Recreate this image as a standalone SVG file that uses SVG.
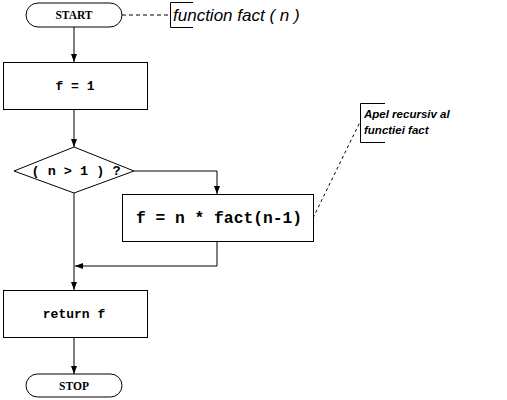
<svg xmlns="http://www.w3.org/2000/svg" width="507" height="400" viewBox="0 0 507 400">
<style>
.box{fill:#fff;stroke:#000;stroke-width:1}
.ln{fill:none;stroke:#000;stroke-width:1}
.term{font-family:"Liberation Serif",serif;font-weight:bold;font-size:11.5px;text-anchor:middle}
.code{font-family:"Liberation Mono",monospace;font-weight:bold;text-anchor:middle}
.note{font-family:"Liberation Sans",Arial,sans-serif;font-style:italic}
</style>
<defs>
<marker id="ah" markerWidth="8" markerHeight="6" refX="8" refY="3" orient="auto" markerUnits="userSpaceOnUse">
<path d="M0,0 L8,3 L0,6 Z" fill="#000"/>
</marker>
</defs>
<rect width="507" height="400" fill="#fff"/>
<g id="connectors">
<line class="ln" x1="74" y1="27" x2="74" y2="62" marker-end="url(#ah)"/>
<line class="ln" x1="74" y1="110" x2="74" y2="147" marker-end="url(#ah)"/>
<polyline class="ln" points="134,171 217,171 217,194" marker-end="url(#ah)"/>
<polyline class="ln" points="217,242 217,266 75,266" marker-end="url(#ah)"/>
<line class="ln" x1="74" y1="193" x2="74" y2="290" marker-end="url(#ah)"/>
<line class="ln" x1="74" y1="338" x2="74" y2="374" marker-end="url(#ah)"/>
<line class="ln" x1="122" y1="15" x2="170" y2="15" stroke-dasharray="4,3"/>
<line class="ln" x1="313" y1="218" x2="360" y2="122" stroke-dasharray="3,3"/>
</g>
<g id="start">
<rect class="box" x="26" y="3" width="96" height="24" rx="12" ry="12"/>
<text class="term" x="74" y="19">START</text>
</g>
<g id="note-function">
<polyline class="ln" points="193,2.5 170.5,2.5 170.5,27.5 193,27.5"/>
<text class="note" x="173" y="21" font-size="17">function fact ( n )</text>
</g>
<g id="init">
<rect class="box" x="3.5" y="62.5" width="144" height="47"/>
<text class="code" x="75" y="90" font-size="13">f = 1</text>
</g>
<g id="decision">
<polygon class="box" points="14,171 74,147 134,171 74,193"/>
<text class="code" x="76" y="175" font-size="13.5">( n &gt; 1 ) ?</text>
</g>
<g id="recursive">
<rect class="box" x="122.5" y="194.5" width="191" height="47"/>
<text class="code" x="219" y="223" font-size="16.3">f = n * fact(n-1)</text>
</g>
<g id="note-recursive">
<polyline class="ln" points="385,103.5 360.5,103.5 360.5,142.5 385,142.5"/>
<text class="note" x="364" y="118" font-size="11.5" font-weight="bold">Apel recursiv al</text>
<text class="note" x="364" y="134" font-size="11.5" font-weight="bold">functiei fact</text>
</g>
<g id="return">
<rect class="box" x="3.5" y="290.5" width="144" height="47"/>
<text class="code" x="74" y="318" font-size="13">return f</text>
</g>
<g id="stop">
<rect class="box" x="26" y="374" width="96" height="23" rx="11.5" ry="11.5"/>
<text class="term" x="74" y="390">STOP</text>
</g>
</svg>
